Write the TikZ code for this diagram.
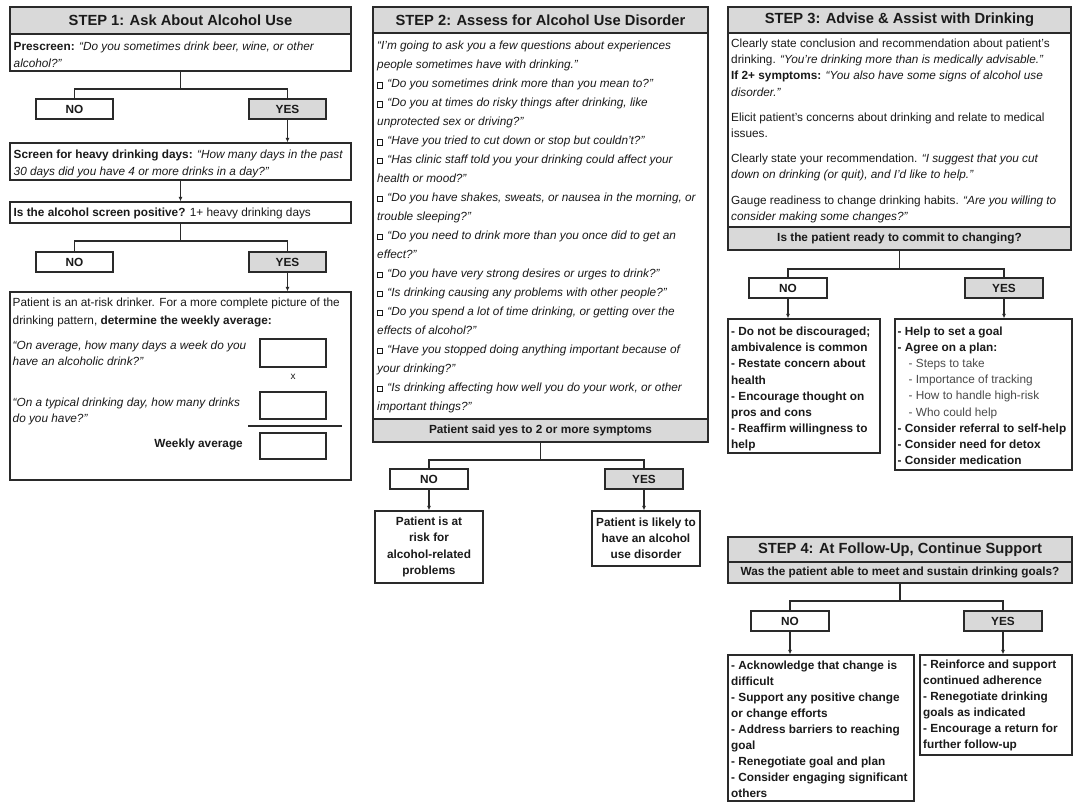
\documentclass[tikz,border=0pt]{standalone}
\usepackage{fontspec}
\setmainfont{Liberation Sans}
\usetikzlibrary{arrows.meta}
\definecolor{bc}{HTML}{2A2A2A}
\definecolor{gf}{HTML}{D9D9D9}
\definecolor{tc}{HTML}{1A1A1A}
\definecolor{sc}{HTML}{4A4A4A}
\newcommand\fs{\fontsize{11.8}{16.2}\selectfont}
\newcommand\cb{\raisebox{0.2pt}{\fboxsep=0pt\fboxrule=0.45pt\fbox{\rule{0pt}{4.8pt}\hspace{4.8pt}}}\hspace{4.5pt}}
\newcommand\bx[7]{\node[#2,minimum width={(#5-#3)*1pt},minimum height={(#6-#4)*1pt}] (#1) at ({(#3+#5)/2},{(#4+#6)/2}) {#7};}
\begin{document}
\begin{tikzpicture}[x=1pt,y=-1pt,
  box/.style={draw=bc,line width=1.3pt,fill=white,inner sep=0pt,rectangle,text=tc},
  gbox/.style={box,fill=gf},
  ttl/.style={font=\fontsize{14.7}{17}\selectfont\bfseries},
  lbl/.style={font=\fs\bfseries},
  tx/.style={anchor=base west,align=left,inner sep=0pt,font=\fs,text=tc},
  ln/.style={draw=bc,line width=1.2pt},
  ar/.style={ln,-{Latex[length=4.5pt,width=4pt]}}]
\useasboundingbox[fill=white] (0,0) rectangle (1074,804);

% ---------------- STEP 1 ----------------
\bx{t1}{gbox,ttl}{10}{7}{351}{34}{STEP 1: Ask About Alcohol Use}
\bx{pre}{box}{10}{34}{351}{71}{}
\node[tx,font=\fontsize{11.8}{17}\selectfont] (pret) at (13.5,67) {\textbf{Prescreen:} \textit{“Do you sometimes drink beer, wine, or other}\\\textit{alcohol?”}};
\bx{no1}{box,lbl}{36}{99}{113}{119}{NO}
\bx{yes1}{gbox,lbl}{249}{99}{326}{119}{YES}
\coordinate (s1) at (180.5,89);
\draw[ln] (pre.south) -- (s1);
\draw[ln] (no1.north) |- (s1) -| (yes1.north);
\bx{scr}{box}{10}{143}{351}{180}{}
\node[tx,font=\fontsize{11.8}{17.3}\selectfont] (scrt) at (13.5,175.3) {\textbf{Screen for heavy drinking days:} \textit{“How many days in the past}\\\textit{30 days did you have 4 or more drinks in a day?”}};
\draw[ar] (yes1.south) -- (yes1.south |- scr.north);
\bx{pos}{box}{10}{202}{351}{223}{}
\node[tx] (post) at (13.5,216.5) {\textbf{Is the alcohol screen positive?} 1+ heavy drinking days};
\draw[ar] (scr.south) -- (pos.north);
\bx{no2}{box,lbl}{36}{252}{113}{272}{NO}
\bx{yes2}{gbox,lbl}{249}{252}{326}{272}{YES}
\coordinate (s2) at (180.5,241);
\draw[ln] (pos.south) -- (s2);
\draw[ln] (no2.north) |- (s2) -| (yes2.north);
\bx{pat}{box}{10}{292}{351}{480}{}
\draw[ar] (yes2.south) -- (yes2.south |- pat.north);
\node[tx,font=\fontsize{11.8}{17.3}\selectfont] (patt) at (12.5,324) {Patient is an at-risk drinker. For a more complete picture of the\\drinking pattern, \textbf{determine the weekly average:}};
\node[tx] (q1) at (12.5,365.2) {\textit{“On average, how many days a week do you}\\\textit{have an alcoholic drink?”}};
\node[tx] (q2) at (12.5,422.9) {\textit{“On a typical drinking day, how many drinks}\\\textit{do you have?”}};
\node[anchor=base east,inner sep=0pt,font=\fs\bfseries,text=tc] (wk) at (243,447) {Weekly average};
\bx{b1}{box}{260}{339}{326}{367}{}
\bx{b2}{box}{260}{392}{326}{419}{}
\bx{b3}{box}{260}{433}{326}{459}{}
\node[inner sep=0pt,font=\fontsize{10}{12}\selectfont,text=tc] (xx) at (293,377) {x};
\draw[ln] (248,426) -- (342,426);

% ---------------- STEP 2 ----------------
\bx{t2}{gbox,ttl}{373}{7}{708}{33}{STEP 2: Assess for Alcohol Use Disorder}
\bx{aud}{box}{373}{33}{708}{419}{}
\node[tx,font=\fontsize{11.8}{18.95}\selectfont] (audt) at (377,410) {%
\textit{“I’m going to ask you a few questions about experiences}\\
\textit{people sometimes have with drinking.”}\\
\cb\textit{“Do you sometimes drink more than you mean to?”}\\
\cb\textit{“Do you at times do risky things after drinking, like}\\
\textit{unprotected sex or driving?”}\\
\cb\textit{“Have you tried to cut down or stop but couldn’t?”}\\
\cb\textit{“Has clinic staff told you your drinking could affect your}\\
\textit{health or mood?”}\\
\cb\textit{“Do you have shakes, sweats, or nausea in the morning, or}\\
\textit{trouble sleeping?”}\\
\cb\textit{“Do you need to drink more than you once did to get an}\\
\textit{effect?”}\\
\cb\textit{“Do you have very strong desires or urges to drink?”}\\
\cb\textit{“Is drinking causing any problems with other people?”}\\
\cb\textit{“Do you spend a lot of time drinking, or getting over the}\\
\textit{effects of alcohol?”}\\
\cb\textit{“Have you stopped doing anything important because of}\\
\textit{your drinking?”}\\
\cb\textit{“Is drinking affecting how well you do your work, or other}\\
\textit{important things?”}};
\bx{sym}{gbox,lbl}{373}{419}{708}{442}{Patient said yes to 2 or more symptoms}
\bx{no3}{box,lbl}{390}{469}{468}{489}{NO}
\bx{yes3}{gbox,lbl}{605}{469}{683}{489}{YES}
\coordinate (s3) at (540.5,460);
\draw[ln] (sym.south) -- (s3);
\draw[ln] (no3.north) |- (s3) -| (yes3.north);
\bx{rno}{box,lbl,align=center}{375}{511}{483}{583}{Patient is at\\risk for\\alcohol-related\\problems}
\bx{ryes}{box,lbl,align=center}{592}{511}{700}{566}{Patient is likely to\\have an alcohol\\use disorder}
\draw[ar] (no3.south) -- (no3.south |- rno.north);
\draw[ar] (yes3.south) -- (yes3.south |- ryes.north);

% ---------------- STEP 3 ----------------
\bx{t3}{gbox,ttl}{728}{7}{1071}{33}{STEP 3: Advise \& Assist with Drinking}
\bx{adv}{box}{728}{33}{1071}{227}{}
\node[tx] (a1) at (731,96.1) {Clearly state conclusion and recommendation about patient’s\\drinking. \textit{“You’re drinking more than is medically advisable.”}\\\textbf{If 2+ symptoms:} \textit{“You also have some signs of alcohol use}\\\textit{disorder.”}};
\node[tx] (a2) at (731,137.7) {Elicit patient’s concerns about drinking and relate to medical\\issues.};
\node[tx] (a3) at (731,178.7) {Clearly state your recommendation. \textit{“I suggest that you cut}\\\textit{down on drinking (or quit), and I’d like to help.”}};
\node[tx] (a4) at (731,220.2) {Gauge readiness to change drinking habits. \textit{“Are you willing to}\\\textit{consider making some changes?”}};
\bx{rdy}{gbox,lbl}{728}{227}{1071}{250}{Is the patient ready to commit to changing?}
\bx{no4}{box,lbl}{749}{278}{827}{298}{NO}
\bx{yes4}{gbox,lbl}{965}{278}{1043}{298}{YES}
\coordinate (s4) at (899.5,269);
\draw[ln] (rdy.south) -- (s4);
\draw[ln] (no4.north) |- (s4) -| (yes4.north);
\bx{nob}{box}{728}{319}{880}{453}{}
\bx{yesb}{box}{895}{319}{1072}{470}{}
\draw[ar] (no4.south) -- (no4.south |- nob.north);
\draw[ar] (yes4.south) -- (yes4.south |- yesb.north);
\node[tx,font=\fontsize{11.8}{16.1}\selectfont\bfseries] (nobt) at (731,448.4) {- Do not be discouraged;\\ambivalence is common\\- Restate concern about\\health\\- Encourage thought on\\pros and cons\\- Reaffirm willingness to\\help};
\node[tx,font=\fontsize{11.8}{16.2}\selectfont\bfseries] (yesbt) at (897.5,464.6) {- Help to set a goal\\- Agree on a plan:\\
\hspace*{11pt}{\mdseries\color{sc}- Steps to take}\\
\hspace*{11pt}{\mdseries\color{sc}- Importance of tracking}\\
\hspace*{11pt}{\mdseries\color{sc}- How to handle high-risk}\\
\hspace*{11pt}{\mdseries\color{sc}- Who could help}\\
- Consider referral to self-help\\- Consider need for detox\\- Consider medication};

% ---------------- STEP 4 ----------------
\bx{t4}{gbox,ttl}{728}{537}{1072}{562}{STEP 4: At Follow-Up, Continue Support}
\bx{met}{gbox,lbl}{728}{562}{1072}{583}{Was the patient able to meet and sustain drinking goals?}
\bx{no5}{box,lbl}{751}{611}{829}{631}{NO}
\bx{yes5}{gbox,lbl}{964}{611}{1042}{631}{YES}
\coordinate (s5) at (900,601);
\draw[ln] (met.south) -- (s5);
\draw[ln] (no5.north) |- (s5) -| (yes5.north);
\bx{noc}{box}{728}{655}{914}{801}{}
\bx{yesc}{box}{920}{655}{1072}{755}{}
\draw[ar] (no5.south) -- (no5.south |- noc.north);
\draw[ar] (yes5.south) -- (yes5.south |- yesc.north);
\node[tx,font=\fontsize{11.8}{16.05}\selectfont\bfseries] (noct) at (731,797.4) {- Acknowledge that change is\\difficult\\- Support any positive change\\or change efforts\\- Address barriers to reaching\\goal\\- Renegotiate goal and plan\\- Consider engaging significant\\others};
\node[tx,font=\fontsize{11.8}{16.1}\selectfont\bfseries] (yesct) at (923,748.8) {- Reinforce and support\\continued adherence\\- Renegotiate drinking\\goals as indicated\\- Encourage a return for\\further follow-up};
\end{tikzpicture}
\end{document}
